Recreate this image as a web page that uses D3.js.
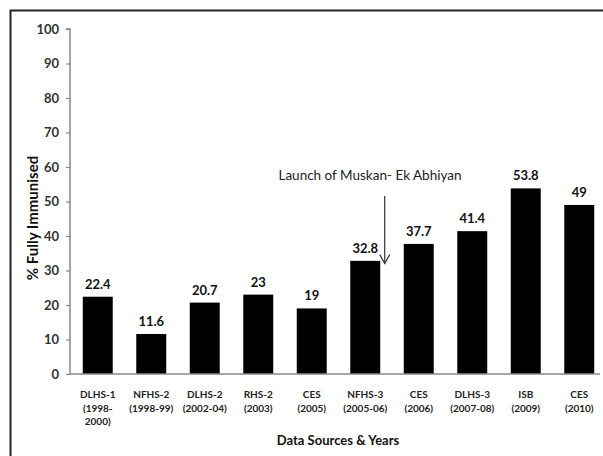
<!doctype html>
<html>
<head>
<meta charset="utf-8">
<script src="https://cdn.jsdelivr.net/npm/d3@7/dist/d3.min.js"></script>
<style>
  body { margin: 0; background: #fff; }
  svg { display: block; font-family: Lato, "Open Sans", sans-serif; }
</style>
</head>
<body>
<svg id="chart" width="603" height="456"></svg>
<script>
  var categories = ['DLHS-1|(1998-|2000)', 'NFHS-2|(1998-99)', 'DLHS-2|(2002-04)', 'RHS-2|(2003)',
    'CES|(2005)', 'NFHS-3|(2005-06)', 'CES|(2006)', 'DLHS-3|(2007-08)', 'ISB|(2009)', 'CES|(2010)'];
  var values = [22.4, 11.6, 20.7, 23, 19, 32.8, 37.7, 41.4, 53.8, 49];
  var yTicks = [0, 10, 20, 30, 40, 50, 60, 70, 80, 90, 100];
  var annotation = { text: 'Launch of Muskan- Ek Abhiyan', after: 5, from: 51.6, to: 32 };

  var svg = d3.select('#chart');

  // frame
  svg.append('path')
    .attr('d', 'M10.5,470 L10.5,10.5 L610,10.5')
    .attr('fill', 'none')
    .attr('stroke', '#222')
    .attr('stroke-width', 2);

  var x = d3.scaleBand()
    .domain(categories)
    .range([71, 606])
    .paddingInner(0.44)
    .paddingOuter(0.22);

  var y = d3.scaleLinear().domain([0, 100]).range([374, 29]);

  // y axis
  var yAxis = svg.append('g')
    .attr('transform', 'translate(70,0)')
    .call(d3.axisLeft(y).tickValues(yTicks).tickSize(4).tickPadding(7));
  yAxis.select('.domain').attr('stroke', '#888').attr('stroke-width', 1.5)
    .attr('d', 'M-4,' + y(100) + 'H0V' + y(0));
  yAxis.selectAll('.tick line').attr('stroke', '#888').attr('stroke-width', 1.2);
  yAxis.selectAll('.tick text')
    .attr('fill', '#333')
    .attr('font-size', 13)
    .attr('font-weight', 'bold')
    .attr('font-family', 'Lato, sans-serif');

  // bars
  svg.append('g').selectAll('rect')
    .data(values)
    .join('rect')
    .attr('x', function (d, i) { return x(categories[i]); })
    .attr('y', function (d) { return y(d); })
    .attr('width', x.bandwidth())
    .attr('height', function (d) { return y(0) - y(d); })
    .attr('fill', '#000');

  // x axis line
  svg.append('line')
    .attr('x1', 70).attr('x2', 600)
    .attr('y1', y(0)).attr('y2', y(0))
    .attr('stroke', '#888')
    .attr('stroke-width', 1.5);

  // value labels
  svg.append('g').selectAll('text')
    .data(values)
    .join('text')
    .attr('x', function (d, i) { return x(categories[i]) + x.bandwidth() / 2; })
    .attr('y', function (d) { return y(d) - 8; })
    .attr('text-anchor', 'middle')
    .attr('font-size', 13)
    .attr('font-weight', 'bold')
    .attr('fill', '#111')
    .text(function (d) { return d; });

  // category labels
  var cat = svg.append('g').selectAll('text')
    .data(categories)
    .join('text')
    .attr('text-anchor', 'middle')
    .attr('font-size', 10)
    .attr('font-weight', 'bold')
    .attr('fill', '#222');
  cat.each(function (d) {
    var t = d3.select(this);
    var cx = x(d) + x.bandwidth() / 2;
    d.split('|').forEach(function (line, k) {
      t.append('tspan').attr('x', cx).attr('y', 398 + k * 13.5).text(line);
    });
  });

  // axis titles
  svg.append('text')
    .attr('transform', 'translate(38,218) rotate(-90)')
    .attr('text-anchor', 'middle')
    .attr('font-size', 15)
    .attr('font-weight', 'bold')
    .attr('fill', '#111')
    .text('% Fully Immunised');

  svg.append('text')
    .attr('x', 338)
    .attr('y', 445)
    .attr('text-anchor', 'middle')
    .attr('font-size', 13)
    .attr('font-weight', 'bold')
    .attr('fill', '#111')
    .text('Data Sources & Years');

  // annotation with arrow
  var ax = x(categories[annotation.after]) + x.bandwidth() + 4.5;
  svg.append('text')
    .attr('x', 370)
    .attr('y', 180)
    .attr('text-anchor', 'middle')
    .attr('font-size', 13.5)
    .attr('fill', '#222')
    .text(annotation.text);
  svg.append('line')
    .attr('x1', ax).attr('x2', ax)
    .attr('y1', y(annotation.from)).attr('y2', y(annotation.to))
    .attr('stroke', '#333').attr('stroke-width', 1.2);
  svg.append('path')
    .attr('d', 'M' + (ax - 5) + ',' + (y(annotation.to) - 9) + 'L' + ax + ',' + y(annotation.to) +
      'L' + (ax + 5) + ',' + (y(annotation.to) - 9))
    .attr('fill', 'none')
    .attr('stroke', '#333').attr('stroke-width', 1.2);
</script>
</body>
</html>
